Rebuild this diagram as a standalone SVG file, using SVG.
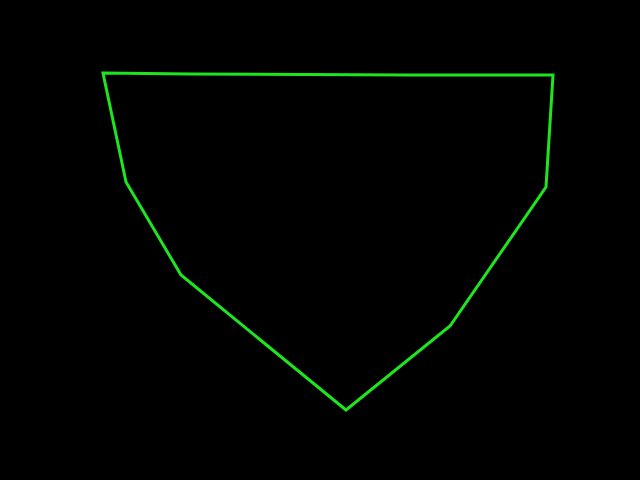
<svg xmlns="http://www.w3.org/2000/svg" width="640" height="480" viewBox="0 0 640 480">
<style>.shape{fill:none;stroke:#1ee61e;stroke-width:3;stroke-linejoin:miter}</style>
<rect width="640" height="480" fill="#000"/>
<polygon class="shape" points="103,73 190,74 407,75 553,75 546,187 450,326 346,410 181,275 126,182"/>
</svg>
